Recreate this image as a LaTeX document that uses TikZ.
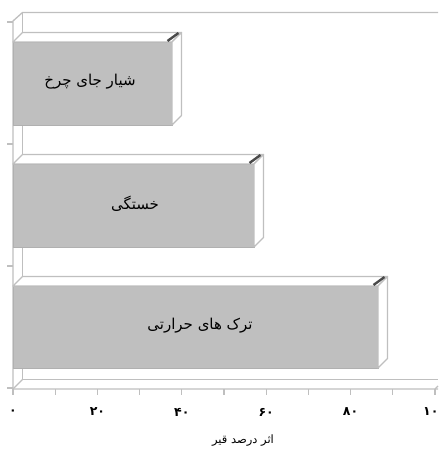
\documentclass[tikz,border=0pt]{standalone}
\usepackage{fontspec}
\TeXXeTstate=1
\newfontfamily\arabicfont[Script=Arabic]{DejaVu Sans}
\newfontfamily\digfont{DejaVu Sans}
\definecolor{framegray}{HTML}{BFBFBF}
\definecolor{barfill}{HTML}{BFBFBF}
\definecolor{stripegray}{HTML}{4A4A4A}
\begin{document}
\begin{tikzpicture}[x=1pt,y=-1pt,
  frame/.style={draw=framegray,line width=1.3pt},
  face/.style={draw=framegray,line width=1.2pt,fill=white,line join=round},
  frontface/.style={draw=barfill!92!black,line width=0.6pt,fill=barfill},
  stripe/.style={draw=stripegray,line width=2.4pt},
  lbl/.style={font=\arabicfont\fontsize{15}{17}\selectfont,text=black,inner sep=0pt},
  ticklbl/.style={font=\digfont\bfseries\fontsize{12.5}{14}\selectfont,inner sep=0pt},
  ttl/.style={font=\arabicfont\fontsize{11.5}{13}\selectfont,inner sep=0pt}]
\useasboundingbox (0,0) rectangle (438,454);
% walls
\coordinate (fl) at (13,21);
\coordinate (bl) at (22.5,12.5);
\coordinate (flb) at (13,389);
\coordinate (blb) at (22.5,379.5);
\draw[frame] (438,12.5) -- (bl) -- (fl) -- (flb) -- (438,389);
\draw[frame] (bl) -- (blb) -- (438,379.5);
\draw[frame] (flb) -- (blb);
\draw[frame] (435,389) -- (438,386);
% left ticks
\foreach \y in {22,144,266,388} \draw[frame] (7,\y) -- (13,\y);
% bottom ticks
\foreach \k in {0,...,10} \draw[frame] ({13+42.2*\k},389) -- ({13+42.2*\k},395);
% bars
\foreach \t/\b/\r in {42/125/172, 164/247/254, 286/368/378} {
  \filldraw[frontface] (13,\t) rectangle (\r,\b);
  \draw[face] (13,\t) -- ++(9.5,-9.5) -- (\r+9.5,\t-9.5) -- (\r,\t) -- cycle;
  \draw[face] (\r,\t) -- (\r+9.5,\t-9.5) -- (\r+9.5,\b-9.5) -- (\r,\b) -- cycle;
  \draw[stripe] (\r-4.5,\t-1) -- (\r+6.5,\t-9);
}
% labels
\node[lbl] (l1) at (90,82) {\beginR شیار جای چرخ\endR};
\node[lbl] (l2) at (135,204) {\beginR خستگی\endR};
\node[lbl] (l3) at (200,326) {\beginR ترک های حرارتی\endR};
% tick labels
\node[ticklbl] (t0) at (13,412) {۰};
\node[ticklbl] (t1) at (97.4,412) {۲۰};
\node[ticklbl] (t2) at (181.8,412) {۴۰};
\node[ticklbl] (t3) at (266.2,412) {۶۰};
\node[ticklbl] (t4) at (350.6,412) {۸۰};
\node[ticklbl,anchor=west] (t5) at (423,412) {۱۰};
% axis title
\node[ttl] (ttl) at (243,441) {\beginR اثر درصد قیر\endR};
\end{tikzpicture}
\end{document}
